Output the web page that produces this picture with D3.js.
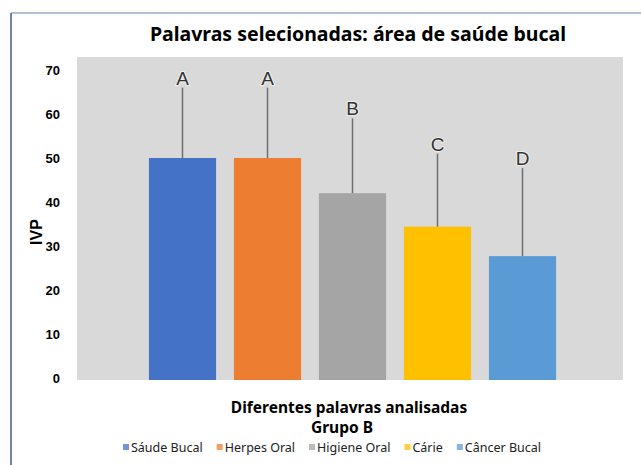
<!DOCTYPE html>
<html>
<head>
<meta charset="utf-8">
<script src="https://cdn.jsdelivr.net/npm/d3@7"></script>
<style>
  body { margin: 0; background: #fff; }
  svg { display: block; }
</style>
</head>
<body>
<div id="chart"></div>
<script>
// dados do gráfico
const categorias = ['Sáude Bucal', 'Herpes Oral', 'Higiene Oral', 'Cárie', 'Câncer Bucal']
const valores = [50, 50, 42, 34.4, 27.7]
const erroSuperior = [66, 66, 59, 51, 47.7]
const letras = ['A', 'A', 'B', 'C', 'D']
const cores = ['#4472c4', '#ed7d31', '#a5a5a5', '#ffc000', '#5b9bd5']
const ticksY = [0, 10, 20, 30, 40, 50, 60, 70]

const width = 641
const height = 465

const svg = d3.select('#chart').append('svg')
  .attr('width', width)
  .attr('height', height)

// moldura
svg.append('line')
  .attr('x1', 11).attr('x2', width).attr('y1', 13).attr('y2', 13)
  .attr('stroke', '#9aabc6').attr('stroke-width', 1.5)
svg.append('line')
  .attr('x1', 11).attr('x2', 11).attr('y1', 13).attr('y2', height)
  .attr('stroke', '#3f5f8f').attr('stroke-width', 1.5)

// área do gráfico
svg.append('rect')
  .attr('x', 77).attr('y', 57)
  .attr('width', 546).attr('height', 323)
  .attr('fill', '#d9d9d9')

const x = d3.scaleBand()
  .domain(categorias)
  .range([140, 565])
  .paddingInner(0.21)
  .paddingOuter(0.105)

const y = d3.scaleLinear()
  .domain([0, 70])
  .range([378, 70])

// barras
svg.selectAll('rect.bar').data(categorias).enter()
  .append('rect')
  .classed('bar', true)
  .attr('x', d => x(d))
  .attr('width', x.bandwidth())
  .attr('y', (d, i) => y(valores[i]))
  .attr('height', (d, i) => y(0) - y(valores[i]) + 2)
  .attr('fill', (d, i) => cores[i])

// barras de erro
svg.selectAll('line.erro').data(categorias).enter()
  .append('line')
  .classed('erro', true)
  .attr('x1', d => x(d) + x.bandwidth() / 2)
  .attr('x2', d => x(d) + x.bandwidth() / 2)
  .attr('y1', (d, i) => y(valores[i]))
  .attr('y2', (d, i) => y(erroSuperior[i]))
  .attr('stroke', '#6f6f6f')
  .attr('stroke-width', 1.5)

// letras
svg.selectAll('text.letra').data(categorias).enter()
  .append('text')
  .classed('letra', true)
  .attr('x', d => x(d) + x.bandwidth() / 2)
  .attr('y', (d, i) => y(erroSuperior[i]) - 3)
  .attr('text-anchor', 'middle')
  .style('font-family', 'Liberation Sans, Arial, sans-serif')
  .style('font-size', '19px')
  .style('fill', '#333')
  .style('paint-order', 'stroke')
  .style('stroke', '#eeeeee')
  .style('stroke-width', '2px')
  .text((d, i) => letras[i])

// eixo y
const eixoY = svg.append('g')
  .attr('transform', 'translate(63,0)')
  .call(d3.axisLeft(y).tickValues(ticksY).tickSize(0).tickPadding(3))
eixoY.select('.domain').remove()
eixoY.selectAll('text')
  .style('font-family', 'Liberation Sans, Arial, sans-serif')
  .style('font-size', '13px')
  .style('font-weight', 'bold')
  .style('fill', '#000')

// títulos
svg.append('text')
  .attr('x', 358).attr('y', 41)
  .attr('text-anchor', 'middle')
  .style('font-family', 'Noto Sans, sans-serif')
  .style('font-size', '19.5px')
  .style('font-weight', 'bold')
  .text('Palavras selecionadas: área de saúde bucal')

svg.append('text')
  .attr('transform', 'translate(42,232) rotate(-90)')
  .attr('text-anchor', 'middle')
  .style('font-family', 'Liberation Sans, Arial, sans-serif')
  .style('font-size', '16px')
  .style('font-weight', 'bold')
  .text('IVP')

svg.append('text')
  .attr('x', 349).attr('y', 413)
  .attr('text-anchor', 'middle')
  .style('font-family', 'Noto Sans, sans-serif')
  .style('font-size', '15.5px')
  .style('font-weight', 'bold')
  .text('Diferentes palavras analisadas')

svg.append('text')
  .attr('x', 342).attr('y', 433)
  .attr('text-anchor', 'middle')
  .style('font-family', 'Noto Sans, sans-serif')
  .style('font-size', '15.5px')
  .style('font-weight', 'bold')
  .text('Grupo B')

// legenda
const legenda = svg.append('g')
const itens = legenda.selectAll('g.item').data(categorias).enter()
  .append('g')
  .classed('item', true)
itens.append('rect')
  .attr('x', 0).attr('y', -8)
  .attr('width', 6).attr('height', 6)
  .attr('fill', (d, i) => cores[i])
  .attr('opacity', 0.75)
itens.append('text')
  .attr('x', 8)
  .style('font-family', 'Noto Sans, sans-serif')
  .style('font-size', '12.5px')
  .style('fill', '#222')
  .text(d => d)

// posição automática
let dx = 0
itens.each(function() {
  d3.select(this).attr('transform', `translate(${dx},0)`)
  dx += this.getBBox().width + 14
})
const larguraLegenda = legenda.node().getBBox().width
legenda.attr('transform', `translate(${332 - larguraLegenda / 2},452)`)
</script>
</body>
</html>
